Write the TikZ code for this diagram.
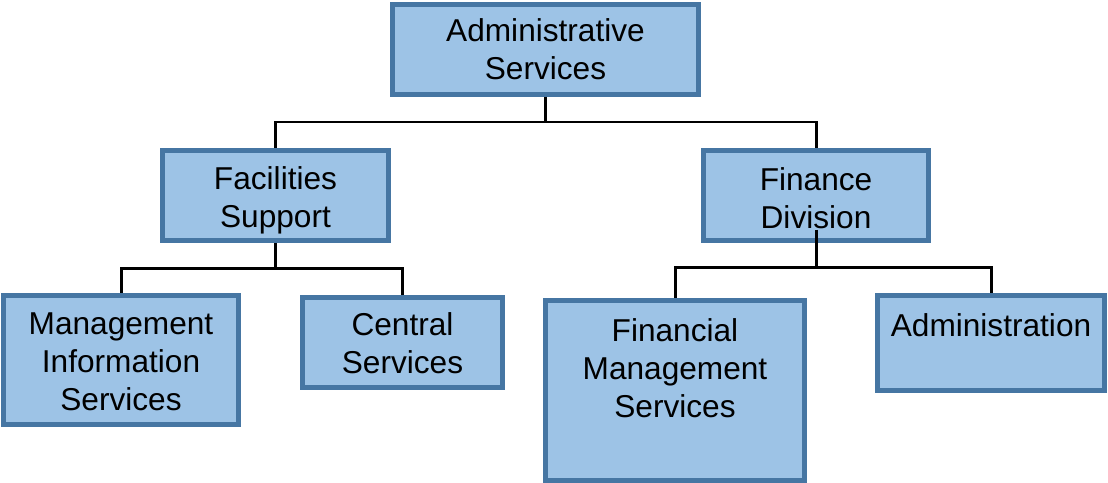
\documentclass[tikz,border=0pt]{standalone}
\usepackage{fontspec}
\setmainfont{Liberation Sans}
\usepackage{tikz}
\usetikzlibrary{positioning,calc}
\definecolor{boxfill}{RGB}{157,195,230}
\definecolor{boxline}{RGB}{70,118,163}
\tikzset{
    unit/.style={draw=boxline, fill=boxfill, line width=0.1cm, rectangle, inner sep=0pt},
    unittext/.style={align=center, inner sep=0pt, font=\fontsize{18}{21.5}\selectfont},
    link/.style={draw=black, line width=0.06cm, line join=miter}
}

\begin{document}
\begin{tikzpicture}[x=0.02cm,y=-0.02cm]
    \useasboundingbox (0,0) rectangle (1108,483);
    % boxes
    \node[unit, minimum width=306*0.02cm, minimum height=90*0.02cm] (adm) at (545.5,49.5) {};
    \node[unit, minimum width=226*0.02cm, minimum height=90*0.02cm] (fac) at (275.5,195.5) {};
    \node[unit, minimum width=225*0.02cm, minimum height=90*0.02cm] (fin) at (816,195.5) {};
    \node[unit, minimum width=235*0.02cm, minimum height=129*0.02cm] (mis) at (121,360) {};
    \node[unit, minimum width=200*0.02cm, minimum height=90*0.02cm] (cen) at (402.5,342.5) {};
    \node[unit, minimum width=259*0.02cm, minimum height=180*0.02cm] (fms) at (675,390) {};
    \node[unit, minimum width=227*0.02cm, minimum height=95*0.02cm] (adn) at (991,343) {};
    % texts
    \node[unittext] (admText) at (adm) {Administrative\\Services};
    \node[unittext] (facText) at ([yshift=-0.09cm]fac.center) {Facilities\\Support};
    \node[unittext] (finText) at ([yshift=-0.05cm]fin.center) {Finance\\Division};
    \node[unittext] (misText) at ([yshift=-0.04cm]mis.center) {Management\\Information\\Services};
    \node[unittext] (cenText) at ([yshift=-0.02cm]cen.center) {Central\\Services};
    \node[unittext] (fmsText) at ([yshift=0.44cm]fms.center) {Financial\\Management\\Services};
    \node[unittext] (adnText) at ([yshift=0.36cm]adn.center) {Administration};
    % connectors
    \coordinate (finStem) at ([yshift=-0.69cm]fin.center);
    \draw[link] (adm.south) -- ++(0,25) -| (fac.north);
    \draw[link] (adm.south) -- ++(0,25) -| (fin.north);
    \draw[link] (fac.south) -- ++(0,25) -| (mis.north);
    \draw[link] (fac.south) -- ++(0,25) -| (cen.north);
    \draw[link] (finStem) -- ++(0,38) -| (fms.north);
    \draw[link] (finStem) -- ++(0,38) -| (adn.north);
\end{tikzpicture}
\end{document}
